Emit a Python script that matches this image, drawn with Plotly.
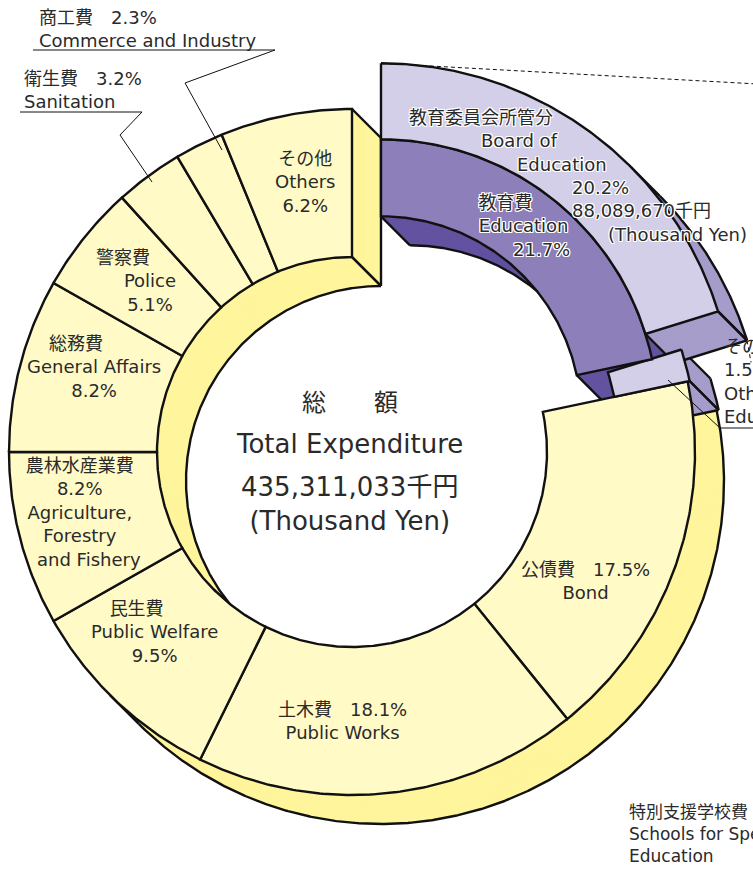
import numpy as np
import plotly.graph_objects as go

# ---------------- data ----------------
cat_ja = ["教育費", "公債費", "土木費", "民生費", "農林水産業費", "総務費", "警察費", "衛生費", "商工費", "その他"]
cat_en = ["Education", "Bond", "Public Works", "Public Welfare",
          "Agriculture, Forestry and Fishery", "General Affairs", "Police",
          "Sanitation", "Commerce and Industry", "Others"]
shares = [21.7, 17.5, 18.1, 9.5, 8.2, 8.2, 5.1, 3.2, 2.3, 6.2]
edu_sub_ja = ["教育委員会所管分", "その他"]
edu_sub_en = ["Board of Education", "Other Education"]
edu_sub_shares = [20.2, 1.5]
board_amount = 88089670
total_amount = 435311033

# ---------------- style / geometry ----------------
W, H = 753, 869
C = (352.0, 452.0)
R_IN, R_OUT = 195.0, 343.0
DEPTH = (29.0, 29.0)
EXPLODE = 46.0
EDU_R = (200.0, 277.0, 353.0)
OTHER_EDU_R = (268.0, 345.0)
N_COPIES = 30

YEL_TOP, YEL_WALL = "#FFFAC6", "#FFF59C"
PUR_TOP, PUR_WALL = "#8D80BA", "#6353A0"
LAV_TOP, LAV_WALL = "#D4CFE8", "#A69DCB"
EDGE = "#111111"
TXT = "#2a2a2a"
FONT = "DejaVu Sans, Noto Sans CJK JP, sans-serif"
FONT_CJK = "Noto Sans CJK JP, sans-serif"
HALO = ("1px 1px 0 #fff, -1px -1px 0 #fff, 1px -1px 0 #fff, -1px 1px 0 #fff, "
        "0 1px 0 #fff, 0 -1px 0 #fff, 1px 0 0 #fff, -1px 0 0 #fff")
FW = "\u3000"

fig = go.Figure()


def pts(c, r, th):
    t = np.radians(th)
    return c[0] + r * np.sin(t), c[1] - r * np.cos(t)


def arc(c, r, a, b):
    n = max(int(abs(b - a) * 2) + 2, 3)
    th = np.linspace(a, b, n)
    return pts(c, r, th)


def sector(c, r1, r2, a, b):
    xo, yo = arc(c, r2, a, b)
    xi, yi = arc(c, r1, b, a)
    x = np.concatenate([xo, xi, xo[:1]])
    y = np.concatenate([yo, yi, yo[:1]])
    return x, y


def add_poly(x, y, fill, line_w=0, line_c=EDGE):
    fig.add_trace(go.Scatter(
        x=x, y=y, mode="lines", fill="toself", fillcolor=fill,
        line=dict(color=line_c if line_w else fill, width=line_w if line_w else 0.5),
        hoverinfo="skip", showlegend=False))


def add_lines(segs, width=2.4, color=EDGE, dash=None):
    xs, ys = [], []
    for sx, sy in segs:
        xs += list(sx) + [None]
        ys += list(sy) + [None]
    fig.add_trace(go.Scatter(x=xs, y=ys, mode="lines",
                             line=dict(color=color, width=width, dash=dash),
                             hoverinfo="skip", showlegend=False))


def wall(c, r1, r2, a, b, color):
    x, y = sector(c, r1, r2, a, b)
    for k in range(N_COPIES, 0, -1):
        t = k / N_COPIES
        add_poly(x + DEPTH[0] * t, y + DEPTH[1] * t, color)


def bottom_outline(c, r1, r2, a, b):
    ox, oy = DEPTH
    segs = []
    th = np.linspace(a, b, int((b - a) * 4) + 3)
    f = ox * np.sin(np.radians(th)) - oy * np.cos(np.radians(th))

    def runs(mask):
        out, start = [], None
        for i, m in enumerate(mask):
            if m and start is None:
                start = i
            if (not m) and start is not None:
                out.append((start, i - 1)); start = None
        if start is not None:
            out.append((start, len(mask) - 1))
        return out

    for r, mask in ((r2, f > 0), (r1, f < 0)):
        for s, e in runs(mask):
            x, y = pts(c, r, th[s:e + 1])
            segs.append((x + ox, y + oy))
            for idx in (s, e):
                px, py = pts(c, r, th[idx])
                segs.append(([px, px + ox], [py, py + oy]))
    ta, tb = np.radians(a), np.radians(b)
    if -(ox * np.cos(ta) + oy * np.sin(ta)) > 0:
        x, y = pts(c, np.array([r1, r2]), np.array([a, a]))
        segs.append((x + ox, y + oy))
        for i in range(2):
            segs.append(([x[i], x[i] + ox], [y[i], y[i] + oy]))
    if (ox * np.cos(tb) + oy * np.sin(tb)) > 0:
        x, y = pts(c, np.array([r1, r2]), np.array([b, b]))
        segs.append((x + ox, y + oy))
        for i in range(2):
            segs.append(([x[i], x[i] + ox], [y[i], y[i] + oy]))
    add_lines(segs)


# angles from data
bounds = np.concatenate([[0.0], np.cumsum(shares)]) * 3.6
edu_a, edu_b = bounds[0], bounds[1]
board_b = edu_a + (edu_b - edu_a) * edu_sub_shares[0] / shares[0]
mid = (edu_a + edu_b) / 2
CE = (C[0] + EXPLODE * np.sin(np.radians(mid)), C[1] - EXPLODE * np.cos(np.radians(mid)))

# ---------- walls (drawn first) ----------
wall(C, R_IN, R_OUT, edu_b, 360.0, YEL_WALL)
bottom_outline(C, R_IN, R_OUT, edu_b, 360.0)
wall(C, OTHER_EDU_R[0], OTHER_EDU_R[1], board_b, edu_b, LAV_WALL)
bottom_outline(C, OTHER_EDU_R[0], OTHER_EDU_R[1], board_b, edu_b)
wall(CE, EDU_R[0], EDU_R[1], edu_a, edu_b, PUR_WALL)
bottom_outline(CE, EDU_R[0], EDU_R[1], edu_a, edu_b)
wall(CE, EDU_R[1], EDU_R[2], edu_a, board_b, LAV_WALL)
bottom_outline(CE, EDU_R[1], EDU_R[2], edu_a, board_b)

# ---------- top faces ----------
for i in range(1, len(shares)):
    x, y = sector(C, R_IN, R_OUT, bounds[i], bounds[i + 1])
    add_poly(x, y, YEL_TOP, 2.4)
x, y = sector(C, OTHER_EDU_R[0], OTHER_EDU_R[1], board_b, edu_b)
add_poly(x, y, LAV_TOP, 2.4)
x, y = sector(CE, EDU_R[0], EDU_R[1], edu_a, edu_b)
add_poly(x, y, PUR_TOP, 2.4)
x, y = sector(CE, EDU_R[1], EDU_R[2], edu_a, board_b)
add_poly(x, y, LAV_TOP, 2.4)

# ---------- dashed guides toward breakdown ----------
gx, gy = pts(CE, EDU_R[2], np.array([edu_a]))
add_lines([([gx[0], gx[0] + 400], [gy[0], gy[0] + 22])], width=1, dash="4px,3px")
hx, hy = pts(CE, EDU_R[2], np.array([board_b]))
hx, hy = hx[0] + DEPTH[0], hy[0] + DEPTH[1]
add_lines([([hx, hx + 4], [hy, hy + 22])], width=1, dash="4px,3px")

# ---------- leader lines ----------
add_lines([([33, 275, 185, 222], [50, 50, 83, 150])], width=1)
add_lines([([20, 142, 120, 152], [112, 112, 135, 182])], width=1)
add_lines([([668, 720, 760], [380, 428, 428])], width=1)


# ---------- text ----------
def ann(lines, x, y, size=18, xanchor="center", align="center", halo=False, family=FONT):
    font = dict(family=family, size=size, color=TXT)
    if halo:
        font["shadow"] = HALO
    fig.add_annotation(x=x, y=y, xref="x", yref="y", text="<br>".join(lines),
                       showarrow=False, xanchor=xanchor, yanchor="middle",
                       align=align, font=font)


def pct(v):
    return f"{v}%"


def J(i):
    return cat_ja[i]


def P(i):
    return pct(shares[i])


ann([J(9), cat_en[9], P(9)], 305, 182)
ann([J(6) + FW * 3, cat_en[6], P(6)], 150, 281)
ann([J(5) + FW * 2, cat_en[5], P(5)], 94, 367)
ann([J(4), P(4), "Agriculture,", "Forestry", FW + "and Fishery"], 80, 512)
ann([J(3) + FW * 2, cat_en[3], P(3)], 154, 632)
ann([J(2) + FW + P(2), cat_en[2]], 342, 721)
ann([J(1) + FW + P(1), cat_en[1]], 585, 581)
ann([J(8) + FW + P(8), cat_en[8]], 37, 29, xanchor="left", align="left")
ann([J(7) + FW + P(7), cat_en[7]], 22, 89.5, xanchor="left", align="left")

ann([J(0) + FW * 2, cat_en[0], FW * 2 + P(0)], 523, 226, halo=True)
ann([edu_sub_ja[0], FW * 4 + "Board of", FW * 6 + "Education"],
    407, 141, xanchor="left", align="left", halo=True)
ann([pct(edu_sub_shares[0]), f"{board_amount:,}千円", FW * 2 + "(Thousand Yen)"],
    570, 211, xanchor="left", align="left", halo=True)

ann([edu_sub_ja[1], pct(edu_sub_shares[1]), "Other", "Education"], 722, 381.5,
    xanchor="left", align="left")
ann(["特別支援学校費", "Schools for Special", "Education"], 627, 834, size=17,
    xanchor="left", align="left")

ann(["総" + FW * 2 + "額"], 350, 400, size=24, family=FONT_CJK)
ann(["Total Expenditure"], 349, 444, size=26)
ann([f"{total_amount:,}千円", "(Thousand Yen)"], 349, 504, size=26)

fig.update_layout(
    width=W, height=H, margin=dict(l=0, r=0, t=0, b=0),
    paper_bgcolor="white", plot_bgcolor="white", showlegend=False,
    xaxis=dict(range=[0, W], visible=False, fixedrange=True),
    yaxis=dict(range=[H, 0], visible=False, fixedrange=True),
)
fig.write_html("out.html", config={"displayModeBar": False},
               post_script="document.body.style.margin='0';document.body.style.overflow='hidden';")
